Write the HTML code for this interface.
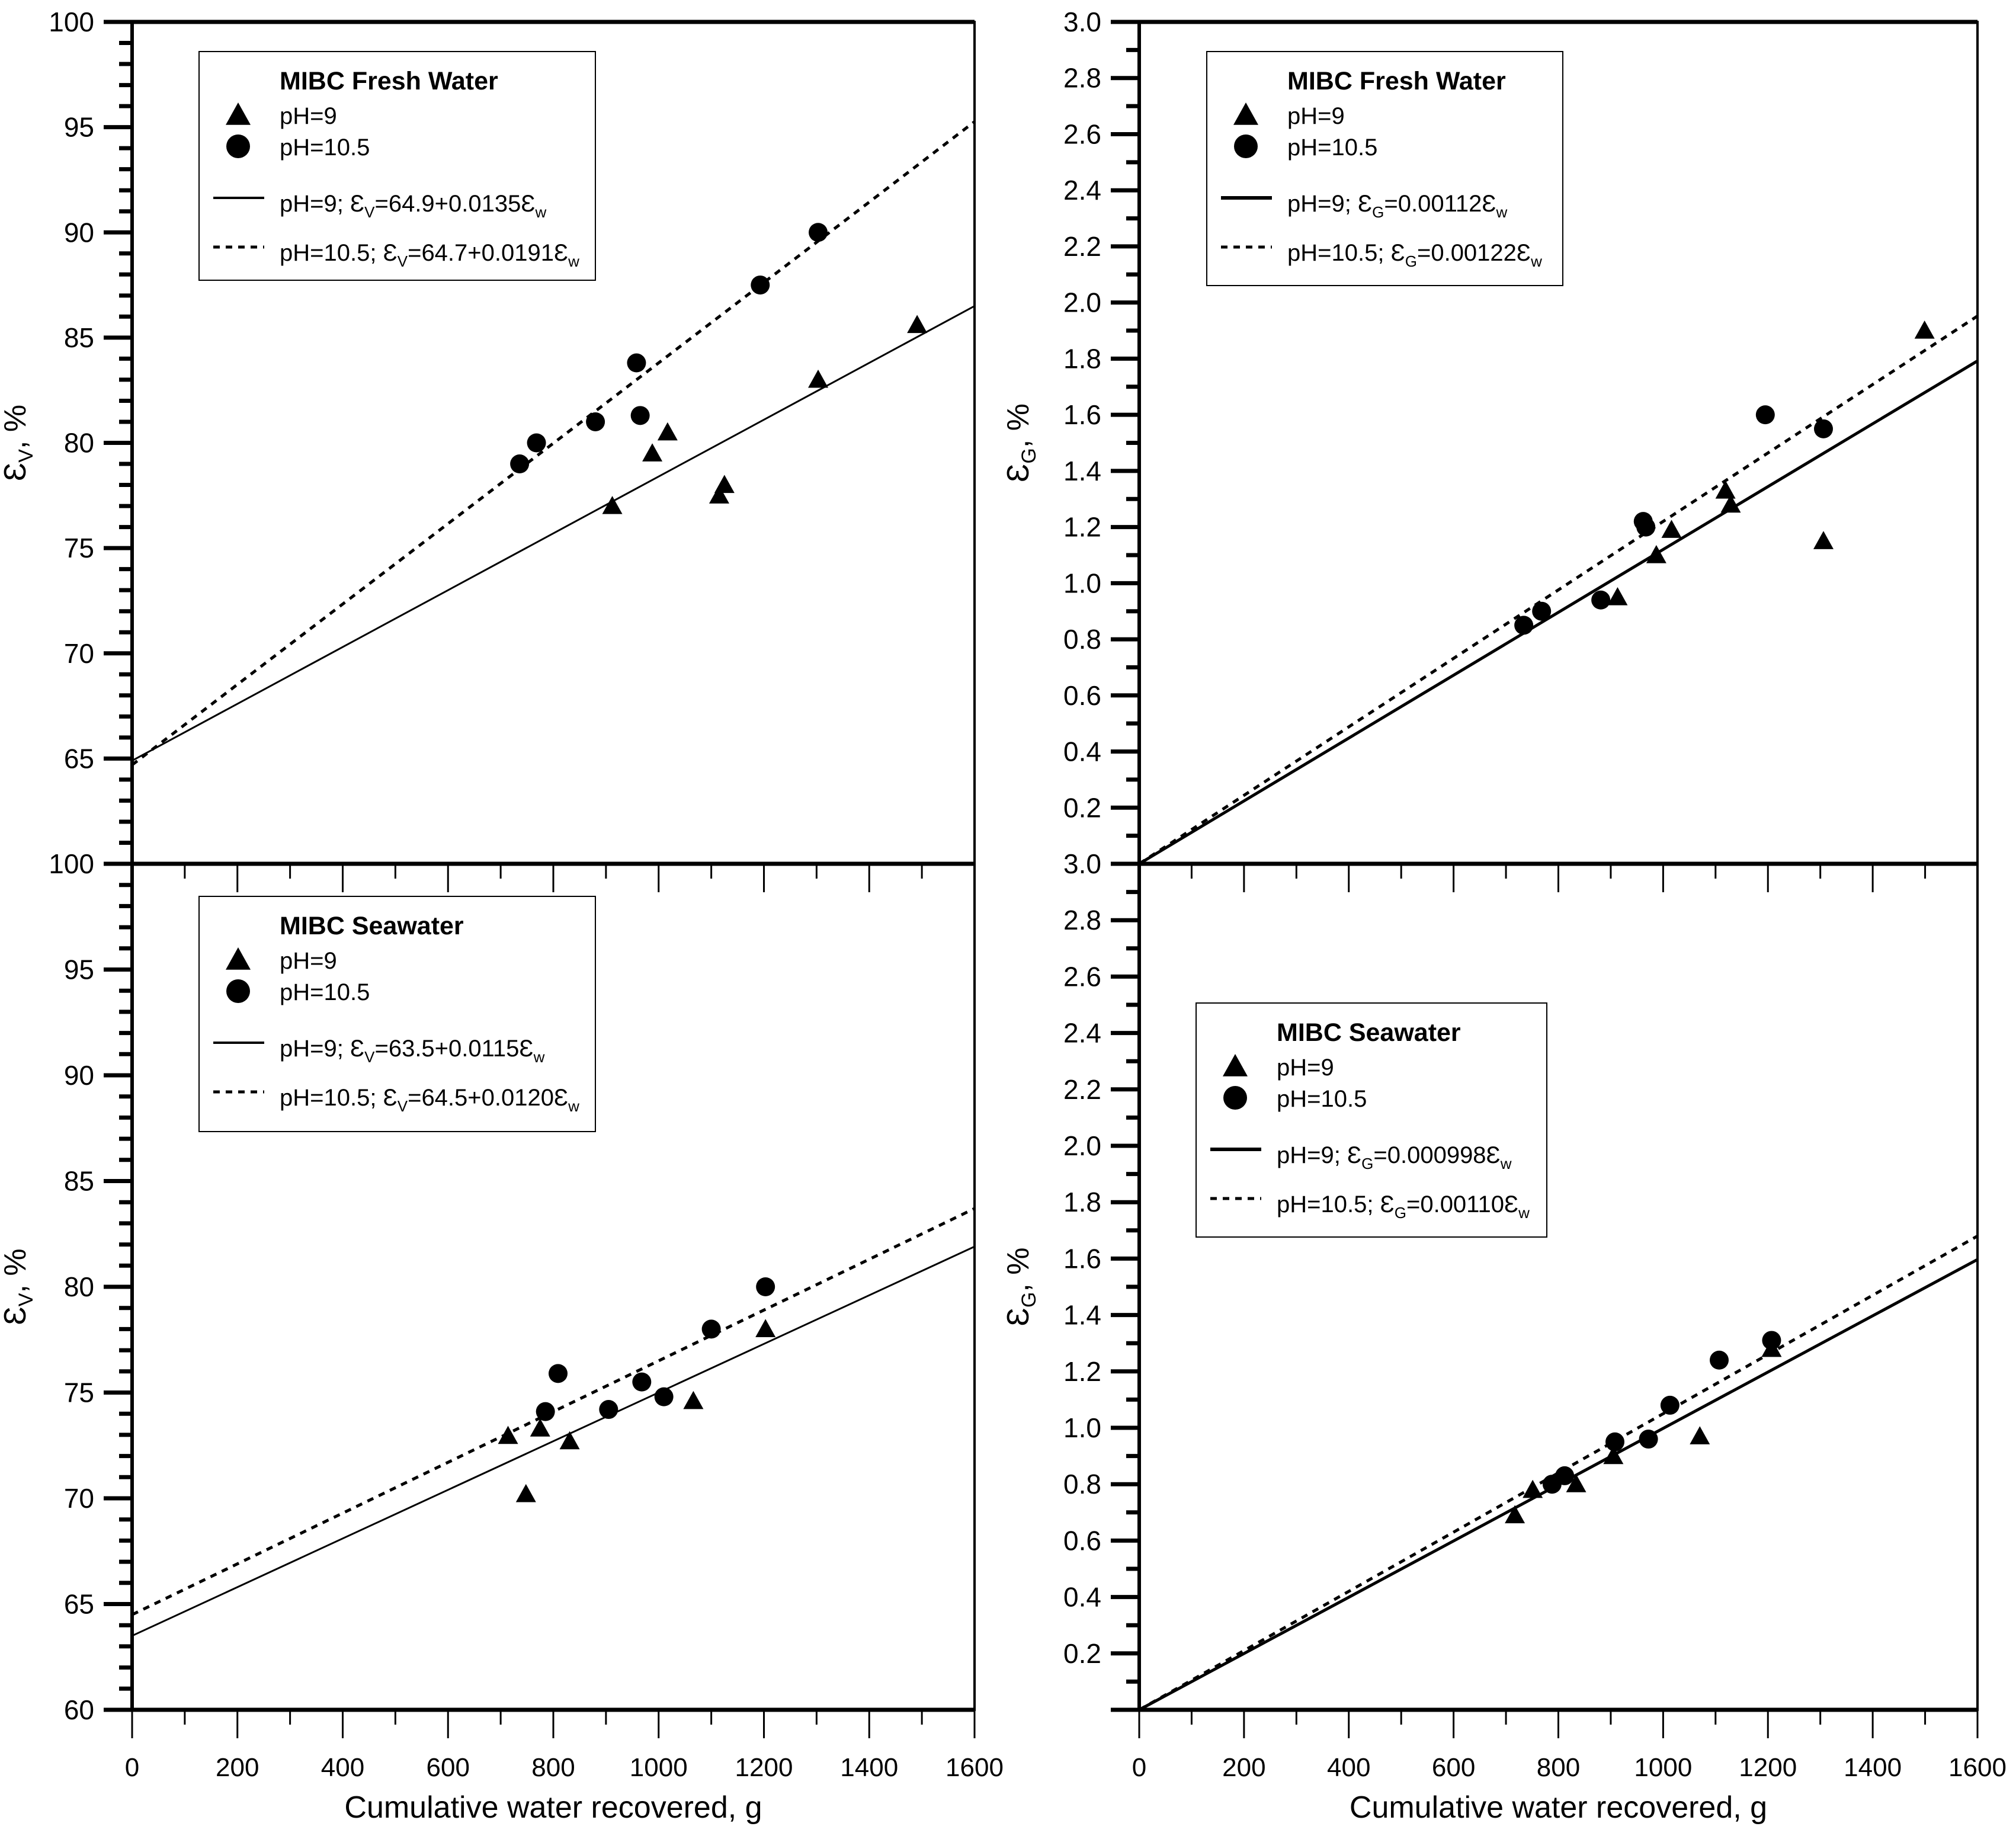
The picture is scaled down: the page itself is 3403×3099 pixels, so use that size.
<!DOCTYPE html>
<html><head><meta charset="utf-8"><style>
html,body{margin:0;padding:0;background:#fff;}
svg{display:block;font-family:"Liberation Sans",Arial,sans-serif;}
</style></head><body>
<svg id="chart" width="3403" height="3099" viewBox="0 0 3403 3099" xmlns="http://www.w3.org/2000/svg"></svg>
<script>
// ---- data ----
const fwV_ph9_x = [912, 988, 1017, 1115, 1125, 1303, 1491];
const fwV_ph9_y = [77, 79.5, 80.5, 77.5, 78, 83, 85.6];
const fwV_ph105_x = [736, 768, 880, 958, 965, 1193, 1303];
const fwV_ph105_y = [79, 80, 81, 83.8, 81.3, 87.5, 90];
const fwV_fit = [[64.9, 0.0135], [64.7, 0.0191]];

const fwG_ph9_x = [913, 987, 1016, 1119, 1129, 1306, 1499];
const fwG_ph9_y = [0.95, 1.10, 1.19, 1.33, 1.28, 1.15, 1.90];
const fwG_ph105_x = [734, 768, 881, 962, 967, 1195, 1306];
const fwG_ph105_y = [0.85, 0.90, 0.94, 1.22, 1.20, 1.60, 1.55];
const fwG_fit = [[0, 0.00112], [0, 0.00122]];

const swV_ph9_x = [714, 748, 775, 831, 1066, 1203];
const swV_ph9_y = [72.95, 70.2, 73.3, 72.7, 74.6, 78.0];
const swV_ph105_x = [785, 809, 905, 968, 1010, 1100, 1203];
const swV_ph105_y = [74.1, 75.9, 74.2, 75.5, 74.8, 78.0, 80.0];
const swV_fit = [[63.5, 0.0115], [64.5, 0.0120]];

const swG_ph9_x = [717, 751, 834, 905, 1070, 1207];
const swG_ph9_y = [0.69, 0.78, 0.80, 0.90, 0.97, 1.28];
const swG_ph105_x = [788, 812, 908, 972, 1013, 1107, 1207];
const swG_ph105_y = [0.80, 0.83, 0.95, 0.96, 1.08, 1.24, 1.31];
const swG_fit = [[0, 0.000998], [0, 0.00105]];

const xTickLabels = [0, 200, 400, 600, 800, 1000, 1200, 1400, 1600];

const NS = "http://www.w3.org/2000/svg";
const svg = document.getElementById('chart');
function el(tag, attrs, parent) {
  const e = document.createElementNS(NS, tag);
  for (const k in attrs) e.setAttribute(k, attrs[k]);
  (parent || svg).appendChild(e);
  return e;
}
const EPS = '\u0190';

const panels = [
  {id:'fresh-volume', x0:223, x1:1645, y0:37, y1:1458, ymin:60, ymax:100, major:5, minor:1,
   labels:[65,70,75,80,85,90,95,100], dec:0, px9:fwV_ph9_x, py9:fwV_ph9_y, px105:fwV_ph105_x, py105:fwV_ph105_y, fit:fwV_fit, lw:3,
   ytitle:'V', leg:{x:336,y:87,w:669,h:386, title:'MIBC Fresh Water', sub:'V', eq:['64.9+0.0135','64.7+0.0191']}},
  {id:'fresh-grade', x0:1923, x1:3338, y0:37, y1:1458, ymin:0, ymax:3, major:0.2, minor:0.1,
   labels:[0.2,0.4,0.6,0.8,1.0,1.2,1.4,1.6,1.8,2.0,2.2,2.4,2.6,2.8,3.0], dec:1, px9:fwG_ph9_x, py9:fwG_ph9_y, px105:fwG_ph105_x, py105:fwG_ph105_y, fit:fwG_fit, lw:5,
   ytitle:'G', leg:{x:2037,y:87,w:601,h:395, title:'MIBC Fresh Water', sub:'G', eq:['0.00112','0.00122']}},
  {id:'sea-volume', x0:223, x1:1645, y0:1458, y1:2886, ymin:60, ymax:100, major:5, minor:1,
   labels:[60,65,70,75,80,85,90,95], dec:0, px9:swV_ph9_x, py9:swV_ph9_y, px105:swV_ph105_x, py105:swV_ph105_y, fit:swV_fit, lw:3,
   ytitle:'V', leg:{x:336,y:1513,w:669,h:397, title:'MIBC Seawater', sub:'V', eq:['63.5+0.0115','64.5+0.0120']}},
  {id:'sea-grade', x0:1923, x1:3338, y0:1458, y1:2886, ymin:0, ymax:3, major:0.2, minor:0.1,
   labels:[0.2,0.4,0.6,0.8,1.0,1.2,1.4,1.6,1.8,2.0,2.2,2.4,2.6,2.8], dec:1, px9:swG_ph9_x, py9:swG_ph9_y, px105:swG_ph105_x, py105:swG_ph105_y, fit:swG_fit, lw:5,
   ytitle:'G', leg:{x:2019,y:1693,w:592,h:395, title:'MIBC Seawater', sub:'G', eq:['0.000998','0.00110']}}
];

function tri(g, cx, cy, s) {
  return el('polygon', {points:`${cx},${cy-s} ${cx-s*1.0},${cy+s*0.8} ${cx+s*1.0},${cy+s*0.8}`, fill:'#000'}, g);
}

panels.forEach((P, pi) => {
  const g = el('g', {});
  
  
  const sx = v => P.x0 + (v - 0) / 1600 * (P.x1 - P.x0);
  const sy = v => P.y1 - (v - P.ymin) / (P.ymax - P.ymin) * (P.y1 - P.y0);
  const fr = el('rect', {x:P.x0, y:P.y0, width:P.x1-P.x0, height:P.y1-P.y0, fill:'none', stroke:'#000', 'stroke-width':4}, g);
  
  
  el('line', {x1:P.x0, y1:P.y0-3, x2:P.x0, y2:P.y1+3, stroke:'#000', 'stroke-width':6}, g);
  el('line', {x1:P.x0-48, y1:P.y1, x2:P.x1, y2:P.y1, stroke:'#000', 'stroke-width':7}, g);
  if (pi < 2) el('line', {x1:P.x0-48, y1:P.y0, x2:P.x1, y2:P.y0, stroke:'#000', 'stroke-width':7}, g);
  const nMinor = Math.round((P.ymax - P.ymin) / P.minor);
  for (let i = 1; i < nMinor; i++) {
    const v = P.ymin + i * P.minor;
    const isMaj = Math.abs((v - P.ymin) / P.major - Math.round((v - P.ymin) / P.major)) < 1e-6;
    const y = sy(v);
    el('line', {x1:P.x0 - (isMaj ? 48 : 22), y1:y, x2:P.x0, y2:y, stroke:'#000', 'stroke-width':7}, g);
  }
  P.labels.forEach(v => {
    const t = el('text', {x:P.x0 - 64, y:sy(v) + 16, 'font-size':46, 'text-anchor':'end', fill:'#000'}, g);
    
    
    t.textContent = v.toFixed(P.dec);
  });
  for (let v = 100; v <= 1600; v += 100) {
    const maj = v % 200 === 0;
    el('line', {x1:sx(v), y1:P.y1, x2:sx(v), y2:P.y1 + (maj ? 48 : 25), stroke:'#000', 'stroke-width':3}, g);
  }
  if (pi >= 2) {
    el('line', {x1:sx(0), y1:P.y1, x2:sx(0), y2:P.y1 + 48, stroke:'#000', 'stroke-width':3}, g);
    xTickLabels.forEach(v => {
      const t = el('text', {x:sx(v), y:P.y1 + 112, 'font-size':44, 'text-anchor':'middle', fill:'#000'}, g);
      
      
      t.textContent = v;
    });
    const xt = el('text', {x:(P.x0+P.x1)/2, y:3068, 'font-size':52, 'text-anchor':'middle', fill:'#000'}, g);
    
    
    xt.textContent = 'Cumulative water recovered, g';
  }
  const cy = (P.y0 + P.y1) / 2;
  const tx = P.x0 - (pi % 2 === 0 ? 180 : 187);
  const yt = el('text', {x:0, y:0, 'font-size':52, 'text-anchor':'middle', fill:'#000', transform:`translate(${tx},${cy}) rotate(-90)`}, g);
  
  
  yt.innerHTML = `${EPS}<tspan font-size="34" dy="12">${P.ytitle}</tspan><tspan dy="-12">, %</tspan>`;
  P.fit.forEach((f, i) => {
    const y0v = f[0], y1v = f[0] + f[1] * 1600;
    const ln = el('line', {x1:sx(0), y1:sy(y0v), x2:sx(1600), y2:sy(y1v), stroke:'#000', 'stroke-width': i === 0 ? P.lw : 5, 'stroke-dasharray': i === 1 ? '11,10' : 'none'}, g);
    
    
  });
  P.px9.forEach((x, i) => {
    const m = tri(g, sx(x), sy(P.py9[i]), 17);
    
    
  });
  P.px105.forEach((x, i) => {
    const m = el('circle', {cx:sx(x), cy:sy(P.py105[i]), r:16, fill:'#000'}, g);
    
    
  });
  const L = P.leg;
  const lg = el('g', {}, g);
  
  
  el('rect', {x:L.x, y:L.y, width:L.w, height:L.h, fill:'#fff', stroke:'#000', 'stroke-width':2}, lg);
  const tx0 = L.x + 136, mx = L.x + 66;
  const tt = el('text', {x:tx0, y:L.y + 64, 'font-size':43, 'font-weight':'bold', fill:'#000'}, lg);
  
  
  tt.textContent = L.title;
  tri(lg, mx, L.y + 107, 21);
  const t1 = el('text', {x:tx0, y:L.y + 122, 'font-size':40, fill:'#000'}, lg);
  
  
  t1.textContent = 'pH=9';
  el('circle', {cx:mx, cy:L.y + 160, r:20, fill:'#000'}, lg);
  const t2 = el('text', {x:tx0, y:L.y + 175, 'font-size':40, fill:'#000'}, lg);
  
  
  t2.textContent = 'pH=10.5';
  el('line', {x1:L.x + 24, y1:L.y + 247, x2:L.x + 110, y2:L.y + 247, stroke:'#000', 'stroke-width':P.lw + 1}, lg);
  el('line', {x1:L.x + 24, y1:L.y + 330, x2:L.x + 110, y2:L.y + 330, stroke:'#000', 'stroke-width':5, 'stroke-dasharray':'11,10'}, lg);
  const eqs = [['pH=9; ', L.eq[0], L.y + 270], ['pH=10.5; ', L.eq[1], L.y + 353]];
  eqs.forEach((e, i) => {
    const t = el('text', {x:tx0, y:e[2], 'font-size':40, fill:'#000'}, lg);
    
    
    t.innerHTML = `${e[0]}${EPS}<tspan font-size="26" dy="10">${L.sub}</tspan><tspan dy="-10">=${e[1]}${EPS}</tspan><tspan font-size="26" dy="10">w</tspan>`;
  });
});
const m1 = el('text', {x:223-64, y:1458+16, 'font-size':46, 'text-anchor':'end', fill:'#000'});


m1.textContent = '100';
const m2 = el('text', {x:1923-64, y:1458+16, 'font-size':46, 'text-anchor':'end', fill:'#000'});


m2.textContent = '3.0';
</script>
</body></html>
